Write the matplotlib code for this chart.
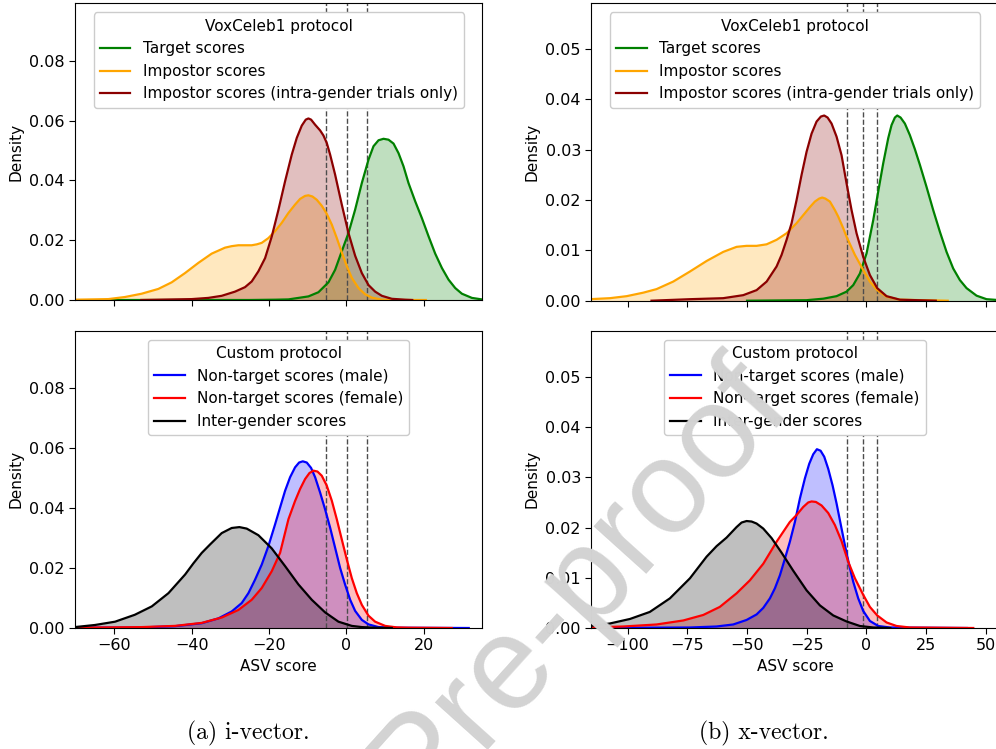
import matplotlib
matplotlib.use("Agg")
import matplotlib.pyplot as plt

# ---------------- data ----------------
# i-vector, VoxCeleb1 protocol
iv_target_x = [-62, -40, -25, -18.4, -15.0, -9.83, -7.24, -4.66, -2.93, -1.21, 0.52, 2.24, 3.97, 5.69, 6.98,
               8.28, 9.57, 10.86, 12.16, 13.45, 14.74, 16.03, 17.76, 19.48, 21.21, 22.93, 24.66, 26.38,
               28.10, 29.83, 32.41, 35.5]
iv_target_y = [0.0, 0.0, 0.0, 0.0001, 0.0002, 0.0012, 0.0026, 0.0059, 0.0101, 0.0163, 0.0224, 0.0302, 0.0391,
               0.0469, 0.0514, 0.0534, 0.0539, 0.0536, 0.0523, 0.0491, 0.0447, 0.0391, 0.0330, 0.0274,
               0.0213, 0.0155, 0.0107, 0.0068, 0.0040, 0.0021, 0.0007, 0.0001]
iv_imp_x = [-72, -70.2, -61.55, -57.24, -52.93, -48.62, -45.17, -41.72, -38.28, -34.83, -31.38, -29.66,
            -27.93, -26.21, -24.48, -23.19, -21.90, -20.17, -18.45, -16.72, -15.0, -13.28, -11.98, -10.69,
            -9.83, -8.79, -7.67, -6.38, -5.09, -3.79, -2.50, -1.21, 0.09, 1.38, 3.10, 4.83, 6.55, 9.14,
            12.0, 20.5]
iv_imp_y = [0.0001, 0.0001, 0.0003, 0.0010, 0.0021, 0.0037, 0.0059, 0.0090, 0.0124, 0.0155, 0.0175, 0.0180,
            0.0183, 0.0183, 0.0183, 0.0186, 0.0191, 0.0207, 0.0230, 0.0258, 0.0291, 0.0319, 0.0338, 0.0348,
            0.0350, 0.0346, 0.0335, 0.0315, 0.0288, 0.0252, 0.0207, 0.0159, 0.0113, 0.0074, 0.0040,
            0.0019, 0.0008, 0.0001, 0.0, 0.0]
iv_intra_x = [-53, -48.6, -40.0, -35.7, -32.24, -28.79, -26.21, -24.48, -22.76, -21.03, -19.31, -17.59,
              -15.86, -14.14, -12.84, -11.55, -10.52, -9.83, -9.14, -8.10, -6.81, -5.95, -5.09, -4.22,
              -2.93, -1.21, 0.52, 2.24, 3.97, 5.69, 7.41, 9.14, 11.72, 15.17, 17.0]
iv_intra_y = [0.0, 0.0001, 0.0003, 0.0007, 0.0014, 0.0028, 0.0043, 0.0062, 0.0096, 0.0140, 0.0212, 0.0301,
              0.0397, 0.0486, 0.0542, 0.0583, 0.0603, 0.0607, 0.0603, 0.0586, 0.0567, 0.0550, 0.0525,
              0.0486, 0.0419, 0.0319, 0.0224, 0.0148, 0.0090, 0.0050, 0.0028, 0.0014, 0.0004, 0.0001, 0.0]

# x-vector, VoxCeleb1 protocol
xv_target_x = [-50, -25.1, -18.11, -12.53, -8.34, -5.55, -2.76, 0.03, 2.82, 4.91, 7.00, 9.10, 10.49, 11.89,
               12.86, 14.26, 16.07, 18.16, 20.26, 22.35, 25.14, 27.93, 30.72, 33.51, 36.30, 39.09, 41.88,
               46.07, 50.25, 56.0]
xv_target_y = [0.0, 0.0001, 0.0004, 0.0009, 0.0018, 0.0031, 0.0054, 0.0094, 0.0160, 0.0217, 0.0273, 0.0323,
               0.0349, 0.0364, 0.0368, 0.0364, 0.0352, 0.0329, 0.0301, 0.0270, 0.0226, 0.0180, 0.0137,
               0.0097, 0.0064, 0.0041, 0.0025, 0.0010, 0.0003, 0.0001]
xv_imp_x = [-117, -115.8, -107.4, -100.4, -93.4, -87.9, -80.9, -73.9, -66.9, -59.96, -54.38, -50.20, -46.01,
            -41.83, -37.64, -33.45, -29.27, -26.48, -23.69, -21.60, -19.78, -18.53, -17.27, -15.32, -13.23,
            -11.83, -9.74, -8.34, -4.85, -1.37, 1.42, 4.49, 8.40, 13.98, 34.0]
xv_imp_y = [0.0003, 0.0003, 0.0005, 0.0009, 0.0016, 0.0023, 0.0038, 0.0058, 0.0079, 0.0097, 0.0107, 0.0109,
            0.0109, 0.0112, 0.0121, 0.0134, 0.0154, 0.0170, 0.0186, 0.0197, 0.0203, 0.0205, 0.0203, 0.0197,
            0.0180, 0.0167, 0.0144, 0.0127, 0.0091, 0.0061, 0.0038, 0.0021, 0.0008, 0.0002, 0.0]
xv_intra_x = [-90, -73.9, -60.0, -51.6, -46.0, -41.8, -37.64, -35.55, -33.45, -31.36, -29.27, -27.18,
              -25.08, -22.99, -20.90, -19.08, -17.69, -16.29, -14.62, -12.53, -10.44, -8.34, -6.25, -4.16,
              -1.37, 1.42, 4.49, 8.40, 13.98, 29.0]
xv_intra_y = [0.0, 0.0003, 0.0005, 0.0011, 0.0021, 0.0038, 0.0068, 0.0091, 0.0121, 0.0154, 0.0200, 0.0250,
              0.0296, 0.0332, 0.0356, 0.0366, 0.0368, 0.0364, 0.0352, 0.0326, 0.0289, 0.0233, 0.0180,
              0.0134, 0.0087, 0.0051, 0.0025, 0.0009, 0.0002, 0.0]

# i-vector, custom protocol
iv_male_x = [-72, -70.2, -52.9, -44.3, -37.4, -33.1, -29.66, -27.07, -25.34, -23.62, -21.90, -20.17,
             -18.45, -17.16, -15.86, -14.57, -13.28, -12.24, -11.29, -10.26, -9.14, -8.10, -6.81, -5.52,
             -4.22, -2.93, -1.64, -0.34, 0.95, 2.24, 3.97, 5.69, 8.28, 11.7, 31.6]
iv_male_y = [0.0001, 0.0001, 0.0002, 0.0006, 0.0016, 0.0032, 0.0055, 0.0083, 0.0116, 0.0161, 0.0211, 0.0273,
             0.0345, 0.0401, 0.0457, 0.0502, 0.0535, 0.0551, 0.0555, 0.0551, 0.0533, 0.0502, 0.0451,
             0.0395, 0.0334, 0.0267, 0.0200, 0.0144, 0.0094, 0.0057, 0.0027, 0.0012, 0.0003, 0.0001, 0.0]
iv_female_x = [-72, -70.2, -52.9, -44.3, -37.4, -32.2, -27.93, -24.48, -21.90, -19.31, -17.16, -15.0,
               -13.28, -11.98, -10.69, -9.57, -8.53, -7.50, -6.38, -5.09, -3.79, -2.50, -1.21, 0.09, 1.38,
               2.67, 3.97, 5.69, 7.41, 10.0, 13.0, 16.0, 27.2]
iv_female_y = [0.0001, 0.0001, 0.0003, 0.0007, 0.0017, 0.0035, 0.0060, 0.0094, 0.0133, 0.0189, 0.0250,
               0.0362, 0.0423, 0.0463, 0.0496, 0.0516, 0.0524, 0.0521, 0.0507, 0.0474, 0.0424, 0.0362,
               0.0295, 0.0228, 0.0166, 0.0116, 0.0077, 0.0041, 0.0021, 0.0007, 0.0002, 0.0001, 0.0]
iv_inter_x = [-72, -70.2, -65.0, -59.8, -54.7, -50.3, -46.0, -41.7, -39.57, -37.4, -35.26, -32.24, -29.66,
              -27.67, -25.78, -22.76, -19.31, -15.86, -12.41, -8.97, -5.52, -2.07, 1.38, 4.0, 7.4, 11.7]
iv_inter_y = [0.0002, 0.0003, 0.0010, 0.0021, 0.0044, 0.0072, 0.0116, 0.0178, 0.0215, 0.0250, 0.0278,
              0.0316, 0.0333, 0.0336, 0.0331, 0.0309, 0.0265, 0.0206, 0.0145, 0.0094, 0.0052, 0.0021,
              0.0007, 0.0003, 0.0001, 0.0]

# x-vector, custom protocol
xv_male_x = [-117, -115.8, -73.9, -62.8, -55.8, -50.20, -46.01, -43.22, -40.43, -38.34, -36.24, -34.15,
             -32.06, -29.97, -27.87, -25.78, -23.97, -22.29, -20.76, -19.22, -17.69, -16.02, -14.20,
             -12.53, -10.86, -9.04, -7.23, -5.55, -3.46, -1.37, 1.42, 4.91, 9.8, 42.0]
xv_male_y = [0.0, 0.0, 0.0001, 0.0003, 0.0007, 0.0016, 0.0027, 0.0040, 0.0059, 0.0079, 0.0105, 0.0138,
             0.0172, 0.0211, 0.0258, 0.0298, 0.0327, 0.0346, 0.0356, 0.0353, 0.0341, 0.0317, 0.0284,
             0.0248, 0.0208, 0.0165, 0.0125, 0.0092, 0.0059, 0.0034, 0.0014, 0.0004, 0.0001, 0.0]
xv_female_x = [-117, -115.8, -101.8, -87.9, -76.7, -68.3, -61.4, -54.4, -48.8, -43.2, -37.6, -32.1,
               -29.27, -26.48, -24.39, -22.99, -21.18, -18.81, -16.02, -13.23, -10.44, -7.65, -4.85, -1.37,
               1.42, 4.49, 8.40, 12.58, 18.16, 44.7]
xv_female_y = [0.0001, 0.0001, 0.0003, 0.0007, 0.0015, 0.0026, 0.0042, 0.0069, 0.0095, 0.0128, 0.0172,
               0.0211, 0.0225, 0.0241, 0.0250, 0.0252, 0.0251, 0.0244, 0.0229, 0.0205, 0.0173, 0.0132,
               0.0099, 0.0066, 0.0042, 0.0025, 0.0011, 0.0004, 0.0001, 0.0]
xv_inter_x = [-117, -115.8, -107.4, -99.0, -90.7, -82.3, -73.9, -66.94, -62.75, -58.57, -54.38, -52.29,
              -50.20, -48.10, -46.01, -43.22, -39.73, -35.55, -30.66, -25.08, -19.50, -13.92, -8.34, -2.76,
              2.8, 10.0]
xv_inter_y = [0.0004, 0.0004, 0.0009, 0.0018, 0.0032, 0.0059, 0.0099, 0.0142, 0.0163, 0.0180, 0.0201,
              0.0210, 0.0213, 0.0212, 0.0208, 0.0198, 0.0179, 0.0150, 0.0114, 0.0075, 0.0045, 0.0025,
              0.0013, 0.0004, 0.0001, 0.0]

# decision thresholds (dashed lines)
iv_thresholds = [-5.4, 0.2, 5.2]
xv_thresholds = [-8.2, -1.5, 4.6]

vox_labels = ["Target scores", "Impostor scores", "Impostor scores (intra-gender trials only)"]
custom_labels = ["Non-target scores (male)", "Non-target scores (female)", "Inter-gender scores"]
vox_colors = ["green", "orange", "darkred"]
custom_colors = ["blue", "red", "black"]

iv_ticks = [-60, -40, -20, 0, 20]
xv_ticks = [-100, -75, -50, -25, 0, 25, 50]
iv_yticks = [0.00, 0.02, 0.04, 0.06, 0.08]
xv_yticks = [0.00, 0.01, 0.02, 0.03, 0.04, 0.05]

# ---------------- figure ----------------
plt.rcParams["font.family"] = ["DejaVu Sans"]
plt.rcParams["font.size"] = 11

W, H = 996, 749
fig = plt.figure(figsize=(W / 100, H / 100), dpi=100)


def px_axes(left, top, right, bottom):
    return fig.add_axes([left / W, 1 - bottom / H, (right - left) / W, (bottom - top) / H])


ax_tl = px_axes(75, 3.3, 482.3, 300)
ax_tr = px_axes(591.3, 3.3, 998.6, 300.7)
ax_bl = px_axes(75, 330.7, 482.3, 628)
ax_br = px_axes(591.3, 330.7, 998.6, 628)


def draw(ax, series, colors, labels, thresholds, xlim, ylim, xticks, yticks, title, show_xlabels):
    handles = []
    for (xs, ys), c, lab in zip(series, colors, labels):
        ax.fill_between(xs, ys, 0, color=c, alpha=0.25, lw=0)
        h, = ax.plot(xs, ys, color=c, lw=1.6, label=lab, solid_joinstyle="round")
        handles.append(h)
    for t in thresholds:
        ax.axvline(t, color="0.3", lw=1.0, ls="--", zorder=1)
    ax.set_xlim(*xlim)
    ax.set_ylim(*ylim)
    ax.set_xticks(xticks)
    ax.set_yticks(yticks)
    ax.set_yticklabels(["%.2f" % v for v in yticks])
    ax.set_ylabel("Density")
    if show_xlabels:
        ax.set_xlabel("ASV score")
    else:
        ax.tick_params(axis="x", labelbottom=False)
    ax.tick_params(labelsize=11.5, length=4)
    leg = ax.legend(handles=handles, title=title, loc="upper center", framealpha=1,
                    fontsize=11, title_fontsize=11, borderaxespad=0.6)
    leg.get_frame().set_edgecolor("0.8")


draw(ax_tl, [(iv_target_x, iv_target_y), (iv_imp_x, iv_imp_y), (iv_intra_x, iv_intra_y)],
     vox_colors, vox_labels, iv_thresholds, (-70.15, 35.1), (0, 0.0992), iv_ticks, iv_yticks,
     "VoxCeleb1 protocol", False)
draw(ax_tr, [(xv_target_x, xv_target_y), (xv_imp_x, xv_imp_y), (xv_intra_x, xv_intra_y)],
     vox_colors, vox_labels, xv_thresholds, (-115.2, 55.3), (0, 0.0591), xv_ticks, xv_yticks,
     "VoxCeleb1 protocol", False)
draw(ax_bl, [(iv_male_x, iv_male_y), (iv_female_x, iv_female_y), (iv_inter_x, iv_inter_y)],
     custom_colors, custom_labels, iv_thresholds, (-70.15, 35.1), (0, 0.099), iv_ticks, iv_yticks,
     "Custom protocol", True)
draw(ax_br, [(xv_male_x, xv_male_y), (xv_female_x, xv_female_y), (xv_inter_x, xv_inter_y)],
     custom_colors, custom_labels, xv_thresholds, (-115.2, 55.3), (0, 0.0592), xv_ticks, xv_yticks,
     "Custom protocol", True)

# captions
fig.text(248 / W, 1 - 733 / H, "(a) i-vector.", family=["cmr10", "DejaVu Serif"], fontsize=17,
         ha="center", va="center")
fig.text(764 / W, 1 - 733 / H, "(b) x-vector.", family=["cmr10", "DejaVu Serif"], fontsize=17,
         ha="center", va="center")

# watermark
fig.text(580 / W, 1 - 585 / H, "Pre-proof", family=["Liberation Sans", "DejaVu Sans"], fontsize=96,
         rotation=48, color="#d3d3d3", ha="center", va="center",
         rotation_mode="anchor", zorder=100)

fig.savefig("out.png", dpi=100)
